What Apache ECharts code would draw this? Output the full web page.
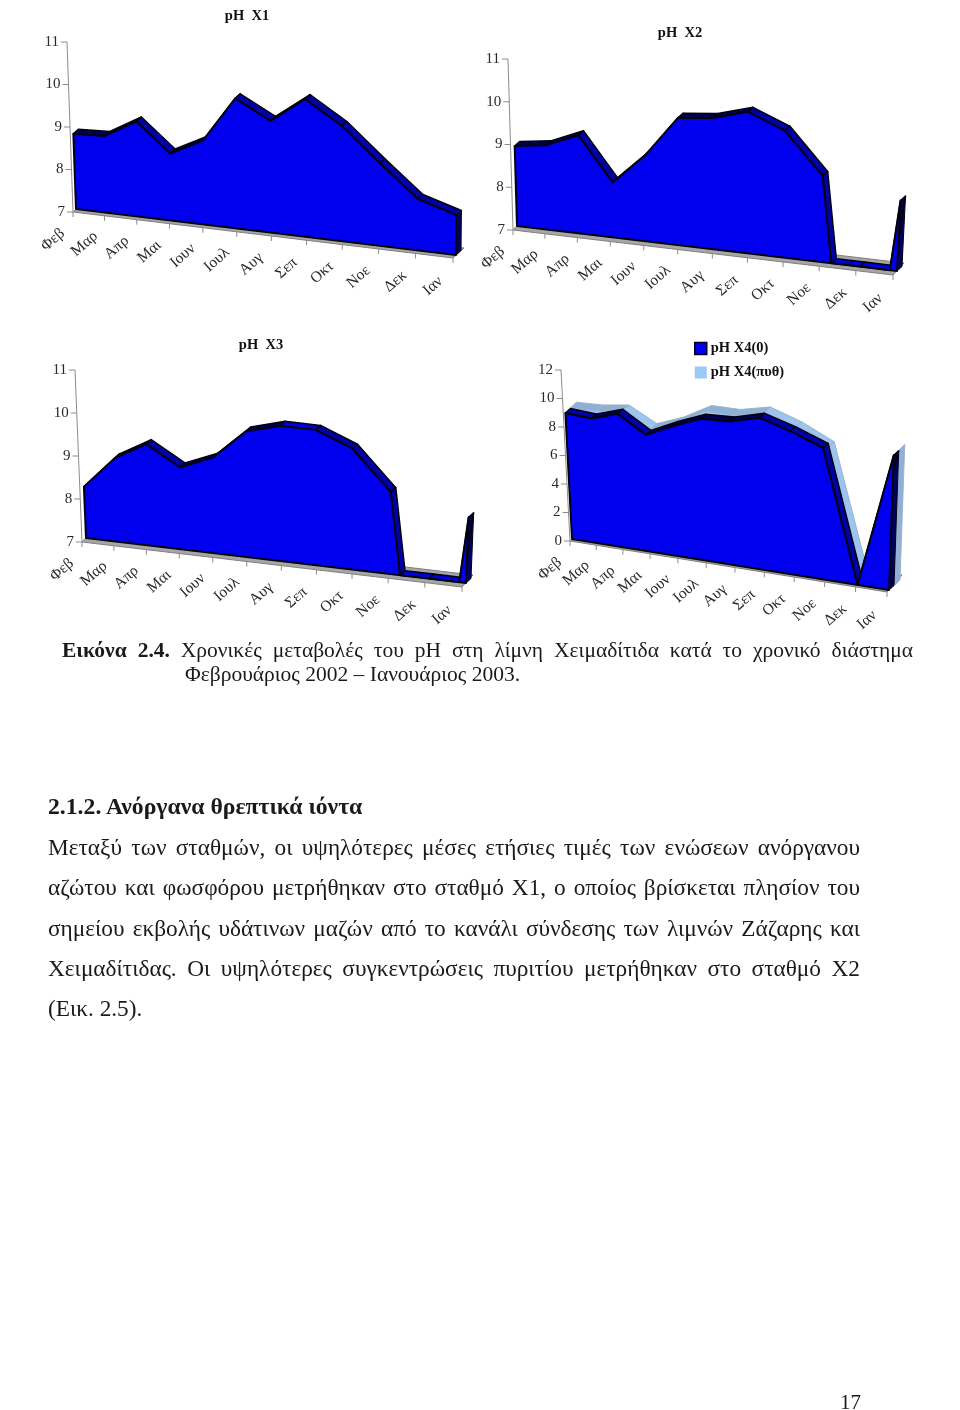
<!DOCTYPE html>
<html>
<head>
<meta charset="utf-8">
<script src="https://cdn.jsdelivr.net/npm/echarts@6/dist/echarts.min.js"></script>
<style>
  html, body { margin: 0; padding: 0; background: #fff; }
  #main { position: absolute; left: 0; top: 0; width: 960px; height: 1410px; }
  .t { position: absolute; font-family: "Liberation Serif", serif; color: #1a1a1a; white-space: normal; }
  .j { text-align: justify; text-align-last: justify; }
  .body { font-size: 23.3px; line-height: 24px; left: 48px; width: 812px; }
</style>
</head>
<body>
<div id="main"></div>
<div class="t j" style="left:62px;top:638px;width:851px;font-size:21.5px;line-height:24px"><b>Εικόνα 2.4.</b> Χρονικές μεταβολές του pH στη λίμνη Χειμαδίτιδα κατά το χρονικό διάστημα</div>
<div class="t" style="left:185px;top:662px;font-size:21.5px;line-height:24px">Φεβρουάριος 2002 – Ιανουάριος 2003.</div>
<div class="t" style="left:48px;top:794px;font-size:23.7px;line-height:24px"><b>2.1.2. Ανόργανα θρεπτικά ιόντα</b></div>
<div class="t j body" style="top:835px">Μεταξύ των σταθμών, οι υψηλότερες μέσες ετήσιες τιμές των ενώσεων ανόργανου</div>
<div class="t j body" style="top:875px">αζώτου και φωσφόρου μετρήθηκαν στο σταθμό Χ1, ο οποίος βρίσκεται πλησίον του</div>
<div class="t j body" style="top:916px">σημείου εκβολής υδάτινων μαζών από το κανάλι σύνδεσης των λιμνών Ζάζαρης και</div>
<div class="t j body" style="top:956px">Χειμαδίτιδας. Οι υψηλότερες συγκεντρώσεις πυριτίου μετρήθηκαν στο σταθμό Χ2</div>
<div class="t body" style="top:996px">(Εικ. 2.5).</div>
<div class="t" style="left:840px;top:1390px;font-size:21px;line-height:24px">17</div>
<script>
var months = ["Φεβ", "Μαρ", "Απρ", "Μαι", "Ιουν", "Ιουλ", "Αυγ", "Σεπ", "Οκτ", "Νοε", "Δεκ", "Ιαν"];

// τιμες pH ανα σταθμο (διαβασμενες απο την εικονα)
var phX1 = [8.77, 8.81, 9.24, 8.58, 8.98, 10.07, 9.64, 10.25, 9.72, 8.95, 8.21, 7.94];
var phX2 = [8.87, 8.98, 9.30, 8.29, 9.02, 9.99, 10.08, 10.32, 9.98, 9.02, 0, 8.65];
var phX3 = [8.19, 8.94, 9.36, 8.91, 9.23, 9.93, 10.16, 10.16, 9.82, 8.91, 0, 8.53];
var phX4a = [8.84, 8.75, 9.38, 8.21, 9.15, 9.98, 10.1, 10.7, 10.1, 9.26, 0, 9.45];
var phX4b = [8.9, 9.0, 9.3, 8.3, 9.08, 10.2, 10.25, 10.76, 10.06, 9.0, 0, 9.5];

var ticksA = [7, 8, 9, 10, 11];
var ticksB = [0, 2, 4, 6, 8, 10, 12];

// θεση καθε γραφηματος στη σελιδα
var panels = [
  { name: "pH  X1", title: [247, 15], x0: 73, x1: 453, yTop: 42, yBot: 212, slope: 46, tilt: 6, lean: 0.01, bow: 9, ticks: ticksA, bands: [{ vals: phX1, from: [3, -3], to: [8, -7.5], c: 0 }], floor: [11, -10] },
  { name: "pH  X2", title: [680, 32], x0: 513, x1: 893, yTop: 59, yBot: 230, slope: 45, tilt: 5, lean: 0.05, bow: 8, ticks: ticksA, bands: [{ vals: phX2, from: [4, -4], to: [9, -8.5], c: 0 }], floor: [11, -12] },
  { name: "pH  X3", title: [261, 344], x0: 82, x1: 462, yTop: 370, yBot: 542, slope: 45, tilt: 7, lean: 0.04, bow: 8, ticks: ticksA, bands: [{ vals: phX3, from: [4, -4], to: [9, -8.5], c: 0 }], floor: [11, -12] },
  { name: "pH X4", x0: 570, x1: 887, yTop: 370, yBot: 541, slope: 51, tilt: 9, lean: 0.035, bow: 8, ticks: ticksB, bands: [{ vals: phX4b, from: [7, -6], to: [13, -12], c: 1, name: "pH X4(πυθ)" }, { vals: phX4a, from: [2, -2], to: [7, -6.5], c: 0, name: "pH X4(0)" }], floor: [15, -17] }
];

var colors = [
  { front: "#0000ee", down: "#0000a8", flat: "#0000d8", up: "#000050", side: "#000060", line: "#000010" },
  { front: "#9cc8f4", down: "#9cc4ec", flat: "#9cc8f4", up: "#8fb0d4", side: "#8fb0d4", line: "#9ab4d0" }
];

function makeProject(api, p, yMin) {
  var base = api.coord([0, yMin]);
  return function (t, v, off) {
    var a = api.coord([0, v]);
    var b = api.coord([11, v]);
    var f = t / 11;
    var x = a[0] + (b[0] - a[0]) * f - p.bow * 4 * f * (1 - f);
    var sy = p.slope / (p.x1 - p.x0);
    // αριστερα ο αξονας γερνει προς τα εξω, δεξια αντιθετα
    var sx = p.tilt / (p.yBot - p.yTop);
    sx = sx - (sx + p.lean) * Math.pow(f, 6);
    return [
      x + sx * (a[1] - base[1]) + (off ? off[0] : 0),
      a[1] + sy * (x - base[0]) + (off ? off[1] : 0)
    ];
  };
}

// γραμμη κορυφης κομμενη στο κατω ορο του αξονα
function clipped(vals, yMin) {
  var out = [];
  for (var i = 0; i < vals.length; i++) {
    out.push({ t: i, v: Math.max(vals[i], yMin) });
    if (i < vals.length - 1 && (vals[i] - yMin) * (vals[i + 1] - yMin) < 0) {
      out.push({ t: i + (yMin - vals[i]) / (vals[i + 1] - vals[i]), v: yMin });
    }
  }
  return out;
}

function poly(points, fill, stroke, w) {
  return { type: "polygon", shape: { points: points }, style: { fill: fill, stroke: stroke, lineWidth: w, lineJoin: "round" } };
}

function renderFrame(p) {
  return function (params, api) {
    if (params.dataIndex !== 0) return null;
    var yMin = p.ticks[0];
    var yMax = p.ticks[p.ticks.length - 1];
    var pr = makeProject(api, p, yMin);
    var kids = [];
    kids.push(poly([pr(0, yMin), pr(11, yMin), pr(11, yMin, p.floor), pr(0, yMin, p.floor)], "#a6a6a6", "#808080", 1));
    var a = pr(0, yMin), b = pr(0, yMax);
    kids.push({ type: "line", shape: { x1: a[0], y1: a[1], x2: b[0], y2: b[1] }, style: { stroke: "#8c8c8c", lineWidth: 1 } });
    p.ticks.forEach(function (tk) {
      var q = pr(0, tk);
      kids.push({ type: "line", shape: { x1: q[0] - 6, y1: q[1], x2: q[0], y2: q[1] }, style: { stroke: "#8c8c8c", lineWidth: 1 } });
      kids.push({ type: "text", x: q[0] - 8, y: q[1], style: { text: String(tk), fill: "#2a2a2a", font: "15px 'Liberation Serif'", align: "right", verticalAlign: "middle" } });
    });
    months.forEach(function (m, i) {
      var q = pr(i, yMin);
      kids.push({ type: "line", shape: { x1: q[0], y1: q[1], x2: q[0], y2: q[1] + 5 }, style: { stroke: "#8c8c8c", lineWidth: 1 } });
      kids.push({ type: "text", x: q[0] - 20, y: q[1] + 28, rotation: 0.72, style: { text: m, fill: "#2a2a2a", font: "15.5px 'Liberation Serif'", align: "center", verticalAlign: "middle" } });
    });
    return { type: "group", children: kids };
  };
}

function renderBand(p, band) {
  return function (params, api) {
    if (params.dataIndex !== 0) return null;
    var yMin = p.ticks[0];
    var pr = makeProject(api, p, yMin);
    var c = colors[band.c];
    var pts = clipped(band.vals, yMin);
    var kids = [];
    var last = pts[pts.length - 1];
    // δεξια πλευρα
    kids.push(poly([pr(last.t, last.v, band.from), pr(last.t, yMin, band.from), pr(last.t, yMin, band.to), pr(last.t, last.v, band.to)], c.side, c.line, 1));
    // πανω επιφανεια
    for (var i = 0; i < pts.length - 1; i++) {
      var s = pts[i], e = pts[i + 1];
      var fill = e.v < s.v ? c.down : (e.v > s.v ? c.up : c.flat);
      kids.push(poly([pr(s.t, s.v, band.from), pr(e.t, e.v, band.from), pr(e.t, e.v, band.to), pr(s.t, s.v, band.to)], fill, c.line, band.c ? 1 : 1.5));
    }
    // μπροστινη οψη
    var front = pts.map(function (q) { return pr(q.t, q.v, band.from); });
    front.push(pr(last.t, yMin, band.from));
    front.push(pr(0, yMin, band.from));
    kids.push(poly(front, c.front, c.line, band.c ? 1 : 2));
    return { type: "group", children: kids };
  };
}

var grids = [], xAxes = [], yAxes = [], series = [], titles = [];
panels.forEach(function (p, k) {
  grids.push({ left: p.x0, top: p.yTop, width: p.x1 - p.x0, height: p.yBot - p.yTop });
  xAxes.push({ gridIndex: k, type: "category", boundaryGap: false, data: months, show: false });
  yAxes.push({ gridIndex: k, type: "value", min: p.ticks[0], max: p.ticks[p.ticks.length - 1], show: false });
  if (p.title) {
    titles.push({ text: p.name, left: p.title[0], top: p.title[1] - 6, padding: 0, textAlign: "center", textStyle: { fontFamily: "Liberation Serif", fontSize: 14.5, fontWeight: "bold", color: "#111" } });
  }
  series.push({
    type: "custom", name: p.name + " axes", xAxisIndex: k, yAxisIndex: k, silent: true,
    data: months.map(function (m, i) { return [i, p.ticks[0]]; }),
    renderItem: renderFrame(p)
  });
  p.bands.forEach(function (band) {
    series.push({
      type: "custom", name: band.name || p.name, xAxisIndex: k, yAxisIndex: k, silent: true,
      itemStyle: { color: colors[band.c].front },
      data: band.vals.map(function (v, i) { return [i, v]; }),
      renderItem: renderBand(p, band)
    });
  });
});

var chart = echarts.init(document.getElementById("main"), null, { renderer: "canvas" });
chart.setOption({
  animation: false,
  backgroundColor: "#fff",
  title: titles,
  grid: grids,
  xAxis: xAxes,
  yAxis: yAxes,
  legend: {
    orient: "vertical", left: 694, top: 341, padding: 0, itemWidth: 12, itemHeight: 12, itemGap: 9, selectedMode: false,
    textStyle: { fontFamily: "Liberation Serif", fontSize: 14.5, fontWeight: "bold", color: "#111", padding: [0, 0, 0, -1] },
    data: [
      { name: "pH X4(0)", icon: "rect", itemStyle: { color: "#0000ee", borderColor: "#000020", borderWidth: 1.5 } },
      { name: "pH X4(πυθ)", icon: "rect", itemStyle: { color: "#9cc8f4", borderWidth: 0 } }
    ]
  },
  series: series
});
</script>
</body>
</html>
